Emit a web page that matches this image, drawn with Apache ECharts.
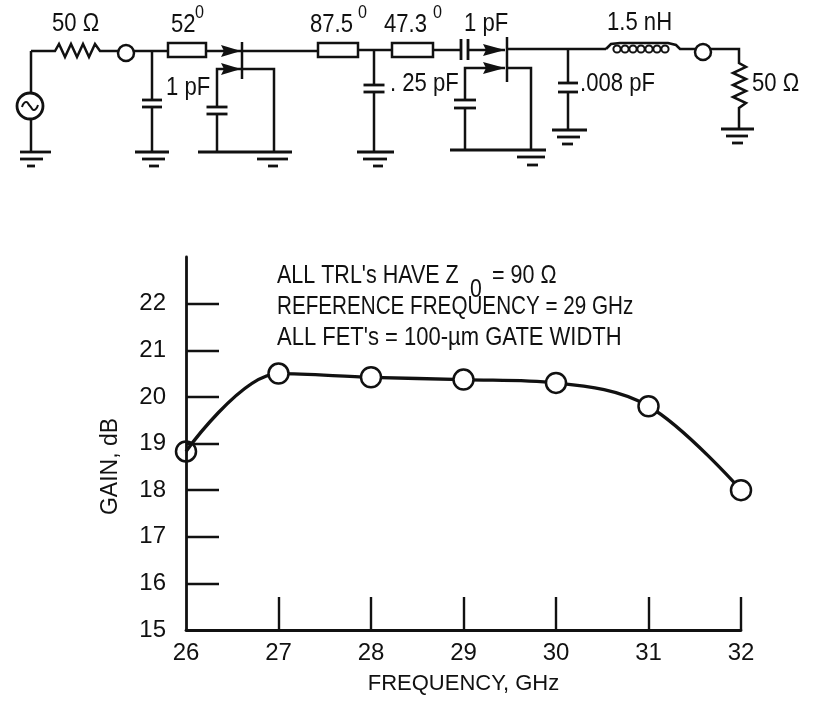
<!DOCTYPE html>
<html>
<head>
<meta charset="utf-8">
<style>
html, body { margin: 0; padding: 0; background: #fff; }
#chart { width: 816px; height: 701px; }
</style>
<script src="https://cdn.jsdelivr.net/npm/echarts@6/dist/echarts.min.js"></script>
</head>
<body>
<div id="chart"></div>
<script>
const frequency = [26, 27, 28, 29, 30, 31, 32];
const gain = [18.83, 20.5, 20.42, 20.37, 20.3, 19.8, 18.0];
const xTicks = [26, 27, 28, 29, 30, 31, 32];
const yTicks = [15, 16, 17, 18, 19, 20, 21, 22];

const FONT = '"Liberation Sans", sans-serif';
const INK = '#111';

// schematic above the plot, all decoration, plain graphic elements
const els = [];

function wire(points, w) {
	els.push({ type: 'polyline', silent: true, shape: { points: points }, style: { stroke: INK, lineWidth: w || 2.5, fill: null } });
}
function ring(x, y, r, w) {
	els.push({ type: 'circle', silent: true, z: 5, shape: { cx: x, cy: y, r: r }, style: { stroke: INK, lineWidth: w || 2.5, fill: '#fff' } });
}
function box(x1, x2, y1, y2) {
	els.push({ type: 'rect', silent: true, z: 5, shape: { x: x1, y: y1, width: x2 - x1, height: y2 - y1 }, style: { stroke: INK, lineWidth: 2.5, fill: '#fff' } });
}
function arrow(tip, base, y) {
	els.push({ type: 'polygon', silent: true, z: 5, shape: { points: [[tip, y], [base, y - 6], [base + 3, y], [base, y + 6]] }, style: { fill: INK } });
}
function label(x, y, text, size, sx) {
	els.push({ type: 'text', silent: true, z: 6, x: x, y: y, scaleX: sx || 0.85, style: { text: text, font: (size || 26) + 'px ' + FONT, fill: INK, align: 'left', verticalAlign: 'middle' } });
}
function ground(y, a, b, c) {
	wire([[a[0], y], [a[1], y]], 2.8);
	wire([[b[0], y + 7], [b[1], y + 7]], 2.8);
	wire([[c[0], y + 14], [c[1], y + 14]], 2.8);
}
function capH(x, y1, y2, half) {
	wire([[x - half, y1], [x + half, y1]], 2.8);
	wire([[x - half, y2], [x + half, y2]], 2.8);
}

// source side
wire([[31, 51], [55, 51], [59, 44], [65, 57], [71, 44], [77, 57], [83, 44], [89, 57], [95, 44], [100, 51], [119, 51]]);
wire([[31, 51], [31, 93]]);
wire([[31, 119], [31, 152]]);
ring(30, 106, 13, 2.8);
els.push({ type: 'polyline', silent: true, z: 6, shape: { smooth: 0.6, points: [[22, 107], [26, 102], [30, 106], [34, 110], [38, 105]] }, style: { stroke: INK, lineWidth: 2, fill: null } });
ground(152, [20, 51], [20, 43], [27, 35]);
ring(126, 53, 8);
wire([[134, 51], [168, 51]]);
wire([[152, 51], [152, 100]]);
capH(152, 100, 107, 10);
wire([[152, 107], [152, 152]]);
ground(152, [135, 169], [142, 165], [149, 159]);
box(168, 206, 43, 57);

// first FET
wire([[206, 51], [318, 51]]);
arrow(241, 221, 51);
arrow(241, 221, 69);
wire([[242, 42], [242, 79]]);
wire([[217, 106], [217, 69], [241, 69]]);
wire([[242, 69], [274, 69], [274, 152]]);
capH(217, 107, 114, 10.5);
wire([[217, 114], [217, 152]]);
wire([[198, 152], [292, 152]], 2.8);
wire([[257, 159], [288, 159]], 2.8);
wire([[268, 166], [278, 166]], 2.8);

// line sections and shunt cap
box(318, 358, 43, 57);
wire([[358, 50], [392, 50]]);
box(392, 433, 43, 57);
wire([[374, 50], [374, 85]]);
capH(374, 85, 92, 10.5);
wire([[374, 92], [374, 152]]);
ground(152, [357, 394], [363, 387], [373, 383]);

// series cap and second FET
wire([[433, 50], [461, 50]]);
wire([[461, 39], [461, 60]], 2.8);
wire([[468, 39], [468, 60]], 2.8);
wire([[468, 50], [505, 50]]);
arrow(505, 483, 50);
arrow(505, 483, 68);
wire([[507, 37], [507, 82]]);
wire([[465, 100], [465, 68], [505, 68]]);
wire([[507, 68], [531, 68], [531, 150]]);
capH(465, 100, 108, 11);
wire([[465, 108], [465, 150]]);
wire([[450, 150], [546, 150]], 2.8);
wire([[517, 157], [545, 157]], 2.8);
wire([[527, 165], [538, 165]], 2.8);

// output side
wire([[507, 49], [606, 49]]);
wire([[568, 49], [568, 83]]);
capH(568, 83, 92, 10);
wire([[568, 92], [568, 130]]);
ground(130, [552, 587], [557, 580], [562, 573]);
wire([[606, 49], [611, 44], [620, 43], [668, 43], [676, 45], [680, 49], [695, 49]]);
[617, 625, 633, 641, 649, 657, 665].forEach((x) => {
	els.push({ type: 'circle', silent: true, z: 5, shape: { cx: x, cy: 49, r: 3.6 }, style: { stroke: INK, lineWidth: 2, fill: null } });
});
ring(703, 52, 8);
wire([[711, 49], [739, 49], [739, 63], [746, 67], [733, 73], [746, 79], [733, 85], [746, 91], [733, 97], [746, 103], [739, 108], [739, 129]]);
ground(129, [721, 754], [726, 748], [732, 743]);

// schematic labels
label(52, 24, '50 Ω');
label(171, 25, '52');
label(195, 13, '0', 19);
label(310, 25, '87.5');
label(358, 13, '0', 19);
label(384, 25, '47.3');
label(433, 13, '0', 19);
label(464, 24, '1 pF');
label(607, 23, '1.5 nH');
label(166, 88, '1 pF');
label(390, 84, '. 25 pF');
label(580, 84, '.008 pF');
label(752, 84, '50 Ω');

// notes inside the plot
label(277, 276, "ALL TRL's HAVE Z", 25, 0.86);
label(470, 290, '0', 25, 0.85);
label(492, 276, '= 90 Ω', 25, 0.86);
label(277, 307, 'REFERENCE FREQUENCY = 29 GHz', 25, 0.826);
label(277, 338, "ALL FET's = 100-µm GATE WIDTH", 25, 0.88);

// first circle sits on the axis, the axis shows through it
const points = frequency.map((f, i) => ({
	value: [f, gain[i]],
	itemStyle: { color: i === 0 ? 'transparent' : '#fff' }
}));

const myChart = echarts.init(document.getElementById('chart'), null, { renderer: 'canvas' });

myChart.setOption({
	animation: false,
	backgroundColor: '#fff',
	grid: { left: 186, right: 75, top: 257, bottom: 71, containLabel: false },
	xAxis: {
		type: 'value',
		min: 26,
		max: 32,
		interval: 1,
		name: 'FREQUENCY, GHz',
		nameLocation: 'middle',
		nameGap: 43,
		nameTextStyle: { fontFamily: FONT, fontSize: 22, color: INK },
		splitLine: { show: false },
		axisLine: { show: true, onZero: false, lineStyle: { color: INK, width: 2.8 } },
		axisTick: { show: true, inside: true, length: 33, customValues: xTicks.slice(1), lineStyle: { color: INK, width: 2.4 } },
		axisLabel: { customValues: xTicks, margin: 11, fontFamily: FONT, fontSize: 24, color: INK, showMinLabel: true, showMaxLabel: true }
	},
	yAxis: {
		type: 'value',
		min: 15,
		max: 23,
		interval: 1,
		name: 'GAIN, dB',
		nameLocation: 'middle',
		nameGap: 64,
		nameTextStyle: { fontFamily: FONT, fontSize: 23, color: INK, padding: [0, 46, 0, 0] },
		splitLine: { show: false },
		axisLine: { show: true, onZero: false, lineStyle: { color: INK, width: 2.8 } },
		axisTick: { show: true, inside: true, length: 33, customValues: yTicks.slice(1), lineStyle: { color: INK, width: 2.4 } },
		axisLabel: { customValues: yTicks, margin: 20, fontFamily: FONT, fontSize: 24, color: INK }
	},
	series: [{
		type: 'line',
		data: points,
		smooth: 0.35,
		clip: false,
		symbol: 'circle',
		symbolSize: 20,
		itemStyle: { borderColor: INK, borderWidth: 2.5 },
		lineStyle: { color: INK, width: 3.3 }
	}],
	graphic: { elements: els }
});
</script>
</body>
</html>
